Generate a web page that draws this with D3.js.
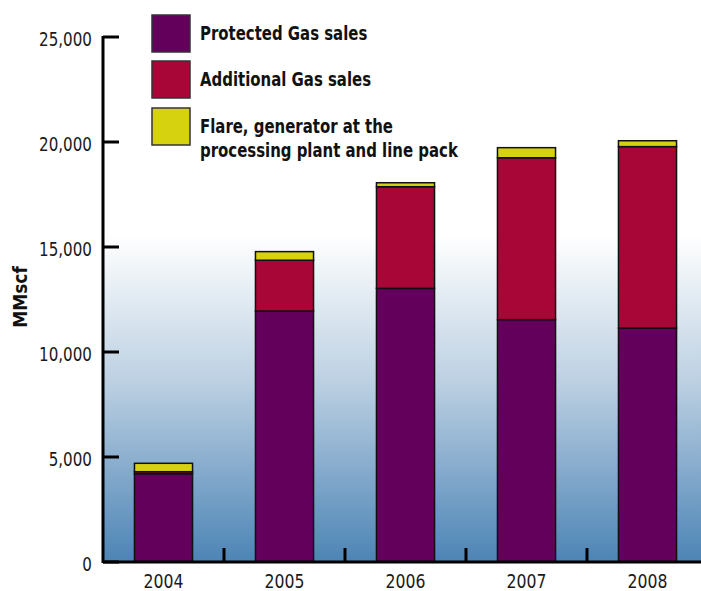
<!DOCTYPE html>
<html>
<head>
<meta charset="utf-8">
<script src="https://cdn.jsdelivr.net/npm/d3@7"></script>
<style>
  html, body { margin: 0; padding: 0; background: #fff; }
  svg { display: block; }
  text { font-family: "DejaVu Sans", sans-serif; }
</style>
</head>
<body>
<svg id="chart" width="701" height="591"></svg>
<script>
// Gas volumes by year (MMscf)
const years = ["2004", "2005", "2006", "2007", "2008"];
const protectedSales = [4200, 11950, 13030, 11540, 11140];
const additionalSales = [100, 2420, 4840, 7710, 8640];
const flareEtc = [400, 410, 190, 480, 280];
const seriesNames = ["Protected Gas sales", "Additional Gas sales", "Flare, generator at the processing plant and line pack"];
const seriesColors = ["#62005b", "#a90638", "#d6d20f"];
const yTicks = [0, 5000, 10000, 15000, 20000, 25000];

const svg = d3.select("#chart");
const W = 701, H = 591;
const axisX = 103, baseY = 562, topY = 37;

const x = d3.scaleBand().domain(years).range([axisX, 708]).paddingInner(0.52).paddingOuter(0.26);
const y = d3.scaleLinear().domain([0, 25000]).range([baseY, topY]);

// Condensed lettering: squeeze a group of labels horizontally so that a
// sample string in that group comes out at the wanted width.
function condense(sel, sampleText, sampleWidth) {
  const probe = svg.append("text")
    .attr("font-size", sel.attr("font-size")).attr("font-weight", sel.attr("font-weight"))
    .text(sampleText);
  const sx = sampleWidth / probe.node().getComputedTextLength();
  probe.remove();
  sel.each(function () {
    const t = d3.select(this);
    const px = +t.attr("data-x"), py = +t.attr("data-y");
    t.attr("transform", `translate(${px},${py}) scale(${sx},1)`);
  });
}

// Background gradient fading from white to steel blue toward the baseline
const defs = svg.append("defs");
const grad = defs.append("linearGradient").attr("id", "bg")
  .attr("gradientUnits", "userSpaceOnUse").attr("x1", 0).attr("y1", 235).attr("x2", 0).attr("y2", baseY);
grad.append("stop").attr("offset", "0%").attr("stop-color", "#ffffff");
grad.append("stop").attr("offset", "45%").attr("stop-color", "#bcd0e2");
grad.append("stop").attr("offset", "100%").attr("stop-color", "#4c84b5");
svg.append("rect").attr("x", axisX).attr("y", 0).attr("width", W - axisX).attr("height", baseY)
  .attr("fill", "url(#bg)");

// Stack the three series
const rows = years.map((yr, i) => ({ year: yr, p: protectedSales[i], a: additionalSales[i], f: flareEtc[i] }));
const stack = d3.stack().keys(["p", "a", "f"]);
const layers = stack(rows);

svg.append("g").selectAll("g").data(layers).join("g")
  .attr("fill", (d, i) => seriesColors[i])
  .selectAll("rect").data(d => d).join("rect")
  .attr("x", d => x(d.data.year))
  .attr("width", x.bandwidth())
  .attr("y", d => y(d[1]))
  .attr("height", d => y(d[0]) - y(d[1]))
  .attr("stroke", "#111").attr("stroke-width", 1.5);

// Y axis: ticks pointing into the plot
const yAxis = svg.append("g");
yAxis.append("line").attr("x1", axisX).attr("x2", axisX).attr("y1", topY - 1).attr("y2", baseY + 1)
  .attr("stroke", "#000").attr("stroke-width", 3);
yAxis.selectAll("line.t").data(yTicks).join("line").attr("class", "t")
  .attr("x1", axisX).attr("x2", axisX + 16)
  .attr("y1", d => y(d)).attr("y2", d => y(d))
  .attr("stroke", "#000").attr("stroke-width", 3);
const yLabels = yAxis.selectAll("text").data(yTicks).join("text")
  .attr("data-x", 92).attr("data-y", d => y(d) + 9)
  .attr("text-anchor", "end").attr("font-size", 20).attr("fill", "#1a1a1a")
  .text(d => d3.format(",")(d));
condense(yLabels, "25,000", 53);

// X axis with upward ticks between categories
const xAxis = svg.append("g");
xAxis.append("line").attr("x1", axisX).attr("x2", W).attr("y1", baseY).attr("y2", baseY)
  .attr("stroke", "#000").attr("stroke-width", 3);
const bounds = years.slice(1).map(yr => x(yr) - x.step() * x.paddingInner() / 2);
xAxis.selectAll("line.t").data(bounds).join("line").attr("class", "t")
  .attr("x1", d => d).attr("x2", d => d).attr("y1", baseY).attr("y2", baseY - 14)
  .attr("stroke", "#000").attr("stroke-width", 3);
const xLabels = xAxis.selectAll("text").data(years).join("text")
  .attr("data-x", d => x(d) + x.bandwidth() / 2).attr("data-y", 588)
  .attr("text-anchor", "middle").attr("font-size", 20).attr("fill", "#1a1a1a")
  .text(d => d);
condense(xLabels, "2004", 40);

// Y axis title
svg.append("text").attr("transform", "translate(27,297) rotate(-90) scale(0.9,1)")
  .attr("text-anchor", "middle").attr("font-size", 19).attr("font-weight", "bold").attr("fill", "#111")
  .text("MMscf");

// Legend
const legendItems = [
  { lines: ["Protected Gas sales"], y: 15 },
  { lines: ["Additional Gas sales"], y: 61 },
  { lines: ["Flare, generator at the", "processing plant and line pack"], y: 108 }
];
const lg = svg.append("g");
legendItems.forEach((it, i) => {
  lg.append("rect").attr("x", 152).attr("y", it.y).attr("width", 38).attr("height", 37)
    .attr("fill", seriesColors[i]).attr("stroke", "#333").attr("stroke-width", 1.5);
  it.lines.forEach((ln, j) => {
    lg.append("text").attr("class", "legend-label")
      .attr("data-x", 200).attr("data-y", it.y + 25 + j * 24)
      .attr("font-size", 19).attr("font-weight", "bold").attr("fill", "#111")
      .text(ln);
  });
});
condense(lg.selectAll("text.legend-label"), "processing plant and line pack", 258);
</script>
</body>
</html>
